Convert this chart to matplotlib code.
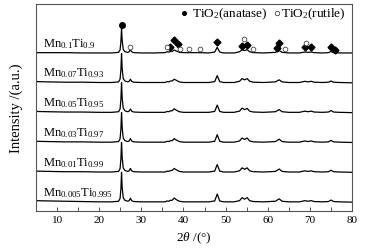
import matplotlib
matplotlib.use('Agg')
import matplotlib.pyplot as plt
from matplotlib.ticker import MultipleLocator

plt.rcParams['font.family'] = ['Liberation Serif', 'DejaVu Serif']
plt.rcParams['mathtext.fontset'] = 'custom'
plt.rcParams['mathtext.rm'] = 'Liberation Serif'
plt.rcParams['mathtext.it'] = 'Liberation Serif:italic'

# sample names, top to bottom
samples = ['Mn$_{0.1}$Ti$_{0.9}$', 'Mn$_{0.07}$Ti$_{0.93}$', 'Mn$_{0.05}$Ti$_{0.95}$',
           'Mn$_{0.03}$Ti$_{0.97}$', 'Mn$_{0.01}$Ti$_{0.99}$', 'Mn$_{0.005}$Ti$_{0.995}$']
offsets = [5, 4, 3, 2, 1, 0]

# traced pattern vertices (2theta, relative intensity)
two_theta = [5, 8, 12, 16, 20, 23, 24.6, 24.95, 25.15, 25.3, 25.45, 25.7, 26.1, 26.8, 27.1, 27.4,
             27.7, 28.2, 30, 33, 35.6, 36.1, 36.5, 36.9, 37.3, 37.8, 38.2, 38.6, 39.0, 40, 42,
             44, 46, 47.4, 48.0, 48.6, 49.5, 52, 53.3, 53.9, 54.5, 55.1, 55.7, 56.6, 59, 61.8,
             62.7, 63.4, 65, 67.5, 68.8, 69.5, 70.3, 71, 73, 74.4, 75.0, 75.6, 77, 80]

int_010 = [0.01, 0.01, 0.01, 0.0, 0.0, 0.0, 0.02, 0.1, 0.38, 0.83, 0.42, 0.12, 0.04, 0.02, 0.04, 0.11,
           0.04, 0.01, 0.0, 0.0, 0.01, 0.04, 0.03, 0.05, 0.05, 0.1, 0.07, 0.05, 0.02, 0.01, 0.01,
           0.01, 0.0, 0.03, 0.19, 0.03, 0.0, 0.0, 0.04, 0.11, 0.08, 0.11, 0.04, 0.01, 0.0, 0.02,
           0.08, 0.02, 0.0, 0.0, 0.03, 0.02, 0.03, 0.01, 0.0, 0.01, 0.05, 0.01, 0.0, 0.0]
int_007 = [0.04, 0.03, 0.02, 0.02, 0.01, 0.01, 0.03, 0.12, 0.44, 0.98, 0.48, 0.14, 0.06, 0.03, 0.05, 0.12,
           0.05, 0.02, 0.01, 0.01, 0.01, 0.04, 0.03, 0.06, 0.06, 0.12, 0.09, 0.06, 0.03, 0.01, 0.01,
           0.01, 0.01, 0.04, 0.24, 0.04, 0.01, 0.01, 0.05, 0.14, 0.1, 0.14, 0.05, 0.02, 0.01, 0.03,
           0.1, 0.03, 0.01, 0.01, 0.05, 0.03, 0.05, 0.02, 0.01, 0.02, 0.06, 0.02, 0.01, 0.0]
int_005 = [0.04, 0.03, 0.02, 0.02, 0.01, 0.01, 0.03, 0.12, 0.45, 1.0, 0.5, 0.15, 0.06, 0.03, 0.05, 0.12,
           0.05, 0.02, 0.01, 0.01, 0.01, 0.04, 0.03, 0.06, 0.06, 0.13, 0.09, 0.06, 0.03, 0.01, 0.01,
           0.01, 0.01, 0.04, 0.25, 0.04, 0.01, 0.01, 0.05, 0.15, 0.1, 0.14, 0.05, 0.02, 0.01, 0.03,
           0.1, 0.03, 0.01, 0.01, 0.05, 0.03, 0.05, 0.02, 0.01, 0.02, 0.07, 0.02, 0.01, 0.0]
int_003 = [0.04, 0.03, 0.02, 0.02, 0.01, 0.01, 0.03, 0.12, 0.45, 1.0, 0.5, 0.15, 0.06, 0.03, 0.05, 0.13,
           0.05, 0.02, 0.01, 0.01, 0.01, 0.04, 0.03, 0.06, 0.06, 0.13, 0.09, 0.06, 0.03, 0.01, 0.01,
           0.01, 0.01, 0.04, 0.26, 0.04, 0.01, 0.01, 0.05, 0.15, 0.1, 0.15, 0.05, 0.02, 0.01, 0.03,
           0.11, 0.03, 0.01, 0.01, 0.05, 0.03, 0.05, 0.02, 0.01, 0.02, 0.07, 0.02, 0.01, 0.0]
int_001 = [0.04, 0.03, 0.02, 0.02, 0.01, 0.01, 0.03, 0.12, 0.45, 1.0, 0.5, 0.15, 0.06, 0.03, 0.05, 0.13,
           0.05, 0.02, 0.01, 0.01, 0.01, 0.04, 0.03, 0.06, 0.06, 0.13, 0.09, 0.06, 0.03, 0.01, 0.01,
           0.01, 0.01, 0.04, 0.26, 0.04, 0.01, 0.01, 0.05, 0.15, 0.1, 0.15, 0.05, 0.02, 0.01, 0.03,
           0.11, 0.03, 0.01, 0.01, 0.05, 0.03, 0.05, 0.02, 0.01, 0.02, 0.07, 0.02, 0.01, 0.0]
int_0005 = [0.05, 0.04, 0.03, 0.02, 0.01, 0.01, 0.03, 0.12, 0.45, 1.0, 0.5, 0.15, 0.06, 0.03, 0.05, 0.13,
            0.05, 0.02, 0.01, 0.01, 0.01, 0.04, 0.03, 0.06, 0.06, 0.14, 0.09, 0.06, 0.03, 0.01, 0.01,
            0.01, 0.01, 0.04, 0.27, 0.04, 0.01, 0.01, 0.05, 0.15, 0.1, 0.15, 0.05, 0.02, 0.01, 0.03,
            0.11, 0.03, 0.01, 0.01, 0.05, 0.03, 0.05, 0.02, 0.01, 0.02, 0.07, 0.02, 0.01, 0.0]
intensities = [int_010, int_007, int_005, int_003, int_001, int_0005]

# phase marks on the top pattern (height above its baseline)
anatase_main = [25.3]
anatase_main_y = [0.94]
anatase_x = [36.9, 37.8, 38.6, 48.0, 53.9, 55.1, 62.1, 62.7, 68.8, 70.3, 75.0, 76.0]
anatase_y = [0.2, 0.42, 0.3, 0.37, 0.24, 0.27, 0.17, 0.34, 0.2, 0.2, 0.2, 0.1]
rutile_x = [27.4, 36.1, 39.2, 41.2, 44.0, 54.3, 56.6, 64.0, 69.0]
rutile_y = [0.2, 0.2, 0.13, 0.13, 0.13, 0.47, 0.13, 0.13, 0.34]

fig = plt.figure(figsize=(3.71, 2.51), dpi=100)
ax = fig.add_axes([0.097, 0.155, 0.852, 0.825])

for name, off, inten in zip(samples, offsets, intensities):
    ax.plot(two_theta, [v + off for v in inten], color='black', lw=0.9)
    ax.text(6.7, off + 0.24, name, fontsize=9, ha='left', va='baseline')

top = offsets[0]
ax.plot(anatase_main, [v + top for v in anatase_main_y], 'o', color='black', ms=4.0)
ax.plot(anatase_x, [v + top for v in anatase_y], 'D', color='black', ms=3.5)
ax.plot(rutile_x, [v + top for v in rutile_y], 'o', mfc='white', mec='#444444', mew=0.6, ms=3.4)

# legend drawn by hand
ax.plot([0.468], [0.957], 'o', color='black', ms=2.6, transform=ax.transAxes, clip_on=False)
ax.text(0.494, 0.957, 'TiO$_2$(anatase)', fontsize=9.5, va='center', transform=ax.transAxes)
ax.plot([0.762], [0.957], 'o', mfc='white', mec='#444444', mew=0.6, ms=3.2,
        transform=ax.transAxes, clip_on=False)
ax.text(0.776, 0.957, 'TiO$_2$(rutile)', fontsize=9.5, va='center', transform=ax.transAxes)

ax.set_xlim(5, 80)
ax.set_ylim(-0.30, 6.64)
ax.set_yticks([])
ax.xaxis.set_major_locator(MultipleLocator(10))
ax.xaxis.set_minor_locator(MultipleLocator(5))
ax.tick_params(axis='x', which='both', direction='in', length=3, width=0.7,
               labelsize=8, pad=3, colors='#555555', labelcolor='black')
for s in ax.spines.values():
    s.set_color('#555555')
    s.set_linewidth(0.8)

ax.set_xlabel(r'$2\theta$ /(°)', fontsize=9.5, labelpad=4)
ax.set_ylabel('Intensity /(a.u.)', fontsize=10.5, labelpad=9)

fig.savefig('out.png', dpi=100)
